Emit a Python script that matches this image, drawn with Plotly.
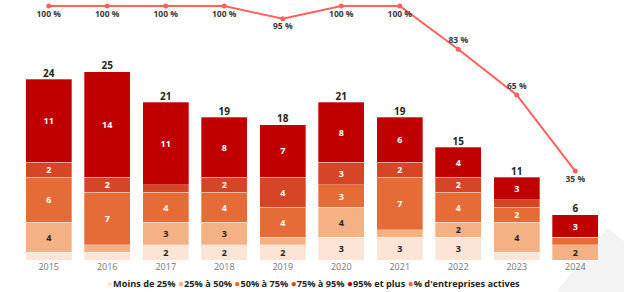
import plotly.graph_objects as go

years = ["2015", "2016", "2017", "2018", "2019", "2020", "2021", "2022", "2023", "2024"]

moins_25 = [1, 1, 2, 2, 2, 3, 3, 3, 1, 0]
de_25_50 = [4, 1, 3, 3, 1, 4, 1, 2, 4, 2]
de_50_75 = [6, 7, 4, 4, 4, 3, 7, 4, 2, 1]
de_75_95 = [2, 2, 1, 2, 4, 3, 2, 2, 1, 0]
plus_95 = [11, 14, 11, 8, 7, 8, 6, 4, 3, 3]
pct_actives = [100, 100, 100, 100, 95, 100, 100, 83, 65, 35]

series = [
    ("Moins de 25%", moins_25, "#FCE4D6", "#252423"),
    ("25% à 50%", de_25_50, "#F4B183", "#252423"),
    ("50% à 75%", de_50_75, "#E66C37", "white"),
    ("75% à 95%", de_75_95, "#D64526", "white"),
    ("95% et plus", plus_95, "#C00000", "white"),
]
line_name = "% d'entreprises actives"
line_color = "#FD625E"
font_family = "Open Sans, Noto Sans, sans-serif"

totals = [sum(v) for v in zip(moins_25, de_25_50, de_50_75, de_75_95, plus_95)]

fig = go.Figure()

for name, values, color, text_color in series:
    labels = [f"<b>{v}</b>" if v > 1 else "" for v in values]
    fig.add_trace(go.Bar(
        x=years, y=values, name=name,
        marker=dict(color=color, line=dict(color="rgba(255,255,255,0.6)", width=0.5)),
        text=labels, texttemplate="%{text}",
        textposition="inside", insidetextanchor="middle",
        textfont=dict(color=text_color, size=9, family=font_family),
        textangle=0, constraintext="none",
        hoverinfo="x+y+name",
    ))

# totals above the bars
fig.add_trace(go.Scatter(
    x=years, y=totals, mode="text",
    text=[f"<b>{t}</b>" for t in totals], textposition="top center",
    textfont=dict(color="#252423", size=10, family=font_family),
    hoverinfo="skip", cliponaxis=False,
))

label_pos = ["bottom center"] * len(years)
label_pos[7] = "top center"
label_pos[8] = "top center"

fig.add_trace(go.Scatter(
    x=years, y=pct_actives, yaxis="y2", mode="lines+markers+text",
    name=line_name,
    line=dict(color=line_color, width=2),
    marker=dict(color=line_color, size=5),
    text=[f"<b>{p} %</b>" for p in pct_actives], textposition=label_pos,
    textfont=dict(color="#3a3a3a", size=8.5, family=font_family),
    cliponaxis=False,
))

# compact legend with round markers, like the original
legend_items = [(name, color) for name, _, color, _ in series] + [(line_name, line_color)]
legend_text = " ".join(
    f"<span style='color:{c};font-size:10px'>●</span><b>{n}</b>" for n, c in legend_items
)

fig.update_layout(
    width=624, height=292,
    margin=dict(l=16, r=16, t=2, b=32),
    barmode="stack", bargap=0.215,
    showlegend=False,
    paper_bgcolor="white", plot_bgcolor="white",
    font=dict(family=font_family, color="#252423"),
    xaxis=dict(showgrid=False, showline=False, ticks="", zeroline=False,
               tickfont=dict(size=9, color="#777777"), automargin=False),
    yaxis=dict(range=[0, 34.3], visible=False, fixedrange=True),
    yaxis2=dict(range=[0, 101.6], overlaying="y", visible=False),
    annotations=[dict(text=legend_text, xref="paper", yref="paper",
                      x=0.503, y=-0.089, xanchor="center", yanchor="middle",
                      showarrow=False, font=dict(size=9.2, color="#252423"))],
    shapes=[dict(type="path", xref="paper", yref="paper", layer="below",
                 path="M 0.913 -0.124 L 0.999 0.124 L 1.034 0.06 L 1.034 -0.124 Z",
                 fillcolor="#F3F3F3", line=dict(width=0))],
)

# the page's default body margin would shift the chart; remove it
fig.write_html("out.html", config={"displayModeBar": False},
               post_script="document.body.style.margin='0';")
